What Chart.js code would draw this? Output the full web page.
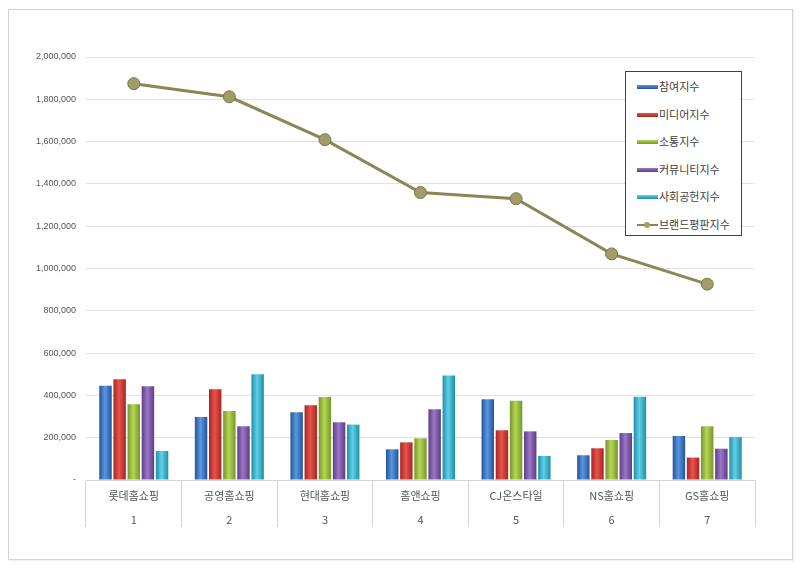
<!DOCTYPE html>
<html>
<head>
<meta charset="utf-8">
<script src="https://cdn.jsdelivr.net/npm/chart.js@4"></script>
<style>
  body { margin: 0; background: #fff; }
  #wrap { position: relative; width: 800px; height: 568px; }
  #frame { position: absolute; left: 8px; top: 9px; width: 783px; height: 549px; border: 1px solid #d4d4d4; box-shadow: 1px 1px 2px rgba(0,0,0,0.08); }
  canvas { position: absolute; left: 0; top: 0; }
  #legend { position: absolute; left: 625px; top: 71px; width: 115px; height: 163px; border: 1px solid #404040; background: #fff;
            font-family: 'Noto Sans CJK KR', sans-serif; font-size: 11px; color: #404040; }
  .item { position: absolute; left: 11px; height: 16px; line-height: 16px; white-space: nowrap; }
  .sw { display: inline-block; width: 21px; height: 4px; vertical-align: middle; margin-right: 1px; position: relative; top: -1px; }
  .ln { display: inline-block; width: 21px; height: 10px; vertical-align: middle; margin-right: 1px; position: relative; top: -1px; }
  .ln:before { content: ''; position: absolute; left: 0; right: 0; top: 4px; height: 2px; background: #8a8755; }
  .ln:after { content: ''; position: absolute; left: 7px; top: 2px; width: 6px; height: 6px; border-radius: 50%; background: #a39e6a; border: 0px; }
</style>
</head>
<body>
<div id="wrap">
  <div id="frame"></div>
  <canvas id="chart" width="800" height="568"></canvas>
  <div id="legend"></div>
</div>
<script>
const companies = ['롯데홈쇼핑', '공영홈쇼핑', '현대홈쇼핑', '홈앤쇼핑', 'CJ온스타일', 'NS홈쇼핑', 'GS홈쇼핑'];
const ranks = ['1', '2', '3', '4', '5', '6', '7'];
const participation = [446000, 298000, 320000, 145000, 382000, 117000, 208000];
const media = [476000, 429000, 353000, 178000, 235000, 150000, 106000];
const communication = [358000, 326000, 393000, 197000, 375000, 189000, 254000];
const community = [443000, 254000, 273000, 334000, 230000, 222000, 148000];
const social = [137000, 500000, 262000, 494000, 114000, 394000, 203000];
const brandIndex = [1874000, 1812000, 1609000, 1359000, 1330000, 1069000, 926000];
const seriesNames = ['참여지수', '미디어지수', '소통지수', '커뮤니티지수', '사회공헌지수', '브랜드평판지수'];

// dark edge, light centre for each bar colour
const barColors = [
  ['#22559a', '#5a97e0'],
  ['#a82623', '#e8524c'],
  ['#76972a', '#b5d654'],
  ['#5e3d85', '#9b76c6'],
  ['#1f8fa8', '#5fd0e6']
];

const labels = companies.map((c, i) => [c, ranks[i]]);

// give every bar a cylinder-like gradient once its position is known
const cylinder = {
  id: 'cylinder',
  beforeDatasetsDraw(chart) {
    const ctx = chart.ctx;
    chart.data.datasets.forEach((ds, di) => {
      if (ds.type === 'line') return;
      chart.getDatasetMeta(di).data.forEach(el => {
        const { x, width } = el.getProps(['x', 'width'], true);
        const g = ctx.createLinearGradient(x - width / 2, 0, x + width / 2, 0);
        const c = barColors[di];
        g.addColorStop(0, c[0]);
        g.addColorStop(0.45, c[1]);
        g.addColorStop(1, c[0]);
        el.options.backgroundColor = g;
      });
    });
  }
};

const barSet = (name, values, i) => ({
  type: 'bar',
  label: name,
  data: values,
  backgroundColor: () => barColors[i][1],
  borderWidth: 0,
  categoryPercentage: 0.74,
  barPercentage: 0.88,
  order: 1
});

new Chart(document.getElementById('chart'), {
  data: {
    labels: labels,
    datasets: [
      barSet(seriesNames[0], participation, 0),
      barSet(seriesNames[1], media, 1),
      barSet(seriesNames[2], communication, 2),
      barSet(seriesNames[3], community, 3),
      barSet(seriesNames[4], social, 4),
      {
        type: 'line',
        label: seriesNames[5],
        data: brandIndex,
        borderColor: '#8a8755',
        borderWidth: 3,
        pointRadius: 6,
        pointBackgroundColor: '#a19c68',
        pointBorderColor: '#77744a',
        pointBorderWidth: 1,
        tension: 0,
        order: 0
      }
    ]
  },
  options: {
    responsive: false,
    animation: false,
    layout: { padding: { left: 10, top: 57, right: 45, bottom: 40 } },
    plugins: {
      legend: { display: false },
      tooltip: { enabled: false }
    },
    scales: {
      x: {
        afterFit: s => { s.height = 48; },
        grid: { offset: true, drawOnChartArea: false, tickLength: 47, color: '#d4d4d4' },
        border: { display: true, color: '#d4d4d4' },
        ticks: {
          padding: -43,
          color: '#555',
          font: { family: "'Noto Sans CJK KR', sans-serif", size: 11, lineHeight: 2.2 }
        }
      },
      y: {
        min: 0,
        max: 2000000,
        afterFit: s => { s.width = 76; },
        grid: { color: '#e2e2e2', drawTicks: false },
        border: { display: false },
        ticks: {
          stepSize: 200000,
          padding: 10,
          color: '#555',
          font: { family: "'Liberation Sans', Arial, sans-serif", size: 9 },
          callback: v => v === 0 ? '-' : v.toLocaleString('en-US')
        }
      }
    }
  },
  plugins: [cylinder]
});

// legend box drawn as html, listed in dataset order
const legend = document.getElementById('legend');
seriesNames.forEach((name, i) => {
  const row = document.createElement('div');
  row.className = 'item';
  row.style.top = (6 + i * 27.6) + 'px';
  const mark = document.createElement('span');
  if (i < 5) {
    mark.className = 'sw';
    mark.style.background = 'linear-gradient(' + barColors[i][1] + ', ' + barColors[i][0] + ')';
  } else {
    mark.className = 'ln';
  }
  row.appendChild(mark);
  row.appendChild(document.createTextNode(name));
  legend.appendChild(row);
});
</script>
</body>
</html>
